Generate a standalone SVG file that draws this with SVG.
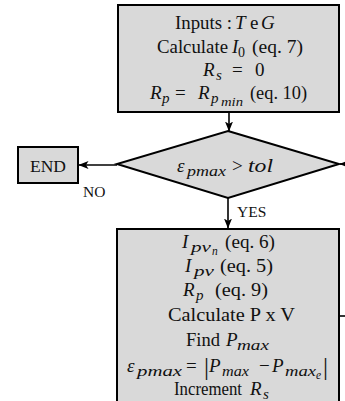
<svg xmlns="http://www.w3.org/2000/svg" width="345" height="401" viewBox="0 0 345 401">
  <style>
    .box { fill: #d9d9d9; stroke: #000; stroke-width: 2; }
    .wire { fill: none; stroke: #000; stroke-width: 1.6; }
    text { font-family: 'Liberation Serif', 'Times New Roman', serif; font-size: 19px; fill: #111; }
    .m { font-style: italic; }
    .s { font-size: 15px; font-style: italic; }
    .ss { font-size: 11.5px; font-style: italic; }
    .n { font-size: 14px; }
    .bar { font-size: 25px; }
    .lbl { font-size: 15.5px; }
    .c { text-anchor: middle; }
  </style>
  <defs>
    <marker id="arrow" viewBox="0 0 10 10" refX="9.5" refY="5" markerWidth="10" markerHeight="10" markerUnits="userSpaceOnUse" orient="auto">
      <path d="M0,1 L10,5 L0,9 L2.5,5 z" fill="#000"/>
    </marker>
  </defs>

  <!-- connectors -->
  <g id="connectors">
    <line class="wire" x1="229" y1="112" x2="229" y2="131" marker-end="url(#arrow)"/>
    <line class="wire" x1="117" y1="165" x2="79" y2="165" marker-end="url(#arrow)"/>
    <line class="wire" x1="228" y1="198" x2="228" y2="228" marker-end="url(#arrow)"/>
    <line class="wire" x1="352" y1="164" x2="340" y2="164" marker-end="url(#arrow)"/>
    <line class="wire" x1="339" y1="316" x2="345" y2="316"/>
    <text class="lbl" x="83" y="197">NO</text>
    <text class="lbl" x="237" y="217">YES</text>
  </g>

  <!-- initialisation block -->
  <g id="init">
    <rect class="box" x="118" y="5" width="221" height="107"/>
    <text y="29"><tspan x="175" textLength="57" lengthAdjust="spacingAndGlyphs">Inputs :</tspan><tspan class="m" x="235">T</tspan><tspan x="250">e</tspan><tspan class="m" x="261">G</tspan></text>
    <text y="53"><tspan x="157" textLength="71" lengthAdjust="spacingAndGlyphs">Calculate</tspan><tspan class="m" x="232">I</tspan><tspan class="n" x="238" y="57">0</tspan><tspan x="252" y="53" textLength="51" lengthAdjust="spacingAndGlyphs">(eq. 7)</tspan></text>
    <text y="76"><tspan class="m" x="203">R</tspan><tspan class="s" x="216" y="80">s</tspan><tspan x="232" y="76">=</tspan><tspan x="255">0</tspan></text>
    <text y="99"><tspan class="m" x="150">R</tspan><tspan class="s" x="162" y="103">p</tspan><tspan x="175" y="99">=</tspan><tspan class="m" x="198">R</tspan><tspan class="s" x="211" y="103">p</tspan><tspan class="ss" x="221" y="106" textLength="22" lengthAdjust="spacingAndGlyphs">min</tspan><tspan x="250" y="99" textLength="57" lengthAdjust="spacingAndGlyphs">(eq. 10)</tspan></text>
  </g>

  <!-- tolerance test -->
  <g id="test">
    <polygon class="box" points="228,131 339,164 228,198 117,164"/>
    <text y="172"><tspan class="m" x="177">ε</tspan><tspan class="s" x="187" y="176" textLength="39" lengthAdjust="spacingAndGlyphs">pmax</tspan><tspan x="232" y="172">&gt;</tspan><tspan class="m" x="248" textLength="25" lengthAdjust="spacingAndGlyphs">tol</tspan></text>
  </g>

  <!-- end block -->
  <g id="end">
    <rect class="box" x="18" y="147" width="60" height="36"/>
    <text class="c" x="48" y="172" style="font-size:17.5px">END</text>
  </g>

  <!-- iteration block -->
  <g id="iterate">
    <rect class="box" x="117" y="229" width="222" height="185"/>
    <text y="248"><tspan class="m" x="182">I</tspan><tspan class="s" x="191" y="252" textLength="20" lengthAdjust="spacingAndGlyphs">pv</tspan><tspan class="ss" x="212" y="255">n</tspan><tspan x="225" y="248" textLength="50" lengthAdjust="spacingAndGlyphs">(eq. 6)</tspan></text>
    <text y="272"><tspan class="m" x="185">I</tspan><tspan class="s" x="194" y="276" textLength="20" lengthAdjust="spacingAndGlyphs">pv</tspan><tspan x="220" y="272" textLength="53" lengthAdjust="spacingAndGlyphs">(eq. 5)</tspan></text>
    <text y="296"><tspan class="m" x="183">R</tspan><tspan class="s" x="196" y="300">p</tspan><tspan x="215" y="296" textLength="53" lengthAdjust="spacingAndGlyphs">(eq. 9)</tspan></text>
    <text x="168" y="321" textLength="127" lengthAdjust="spacingAndGlyphs">Calculate P x V</text>
    <text y="346"><tspan x="186" textLength="34" lengthAdjust="spacingAndGlyphs">Find</tspan><tspan class="m" x="226">P</tspan><tspan class="s" x="237" y="350" textLength="32" lengthAdjust="spacingAndGlyphs">max</tspan></text>
    <text y="372"><tspan class="m" x="127">ε</tspan><tspan class="s" x="137" y="376" textLength="45" lengthAdjust="spacingAndGlyphs">pmax</tspan><tspan x="186" y="372">=</tspan><tspan class="bar" x="204" y="375">|</tspan><tspan class="m" x="209" y="372">P</tspan><tspan class="s" x="222" y="376" textLength="27" lengthAdjust="spacingAndGlyphs">max</tspan><tspan x="259" y="372">−</tspan><tspan class="m" x="272">P</tspan><tspan class="s" x="285" y="376" textLength="31" lengthAdjust="spacingAndGlyphs">max</tspan><tspan class="ss" x="316" y="379">e</tspan><tspan class="bar" x="323" y="375">|</tspan></text>
    <text y="395"><tspan x="174" textLength="68" lengthAdjust="spacingAndGlyphs">Increment</tspan><tspan class="m" x="250">R</tspan><tspan class="s" x="263" y="399">s</tspan></text>
  </g>
</svg>
